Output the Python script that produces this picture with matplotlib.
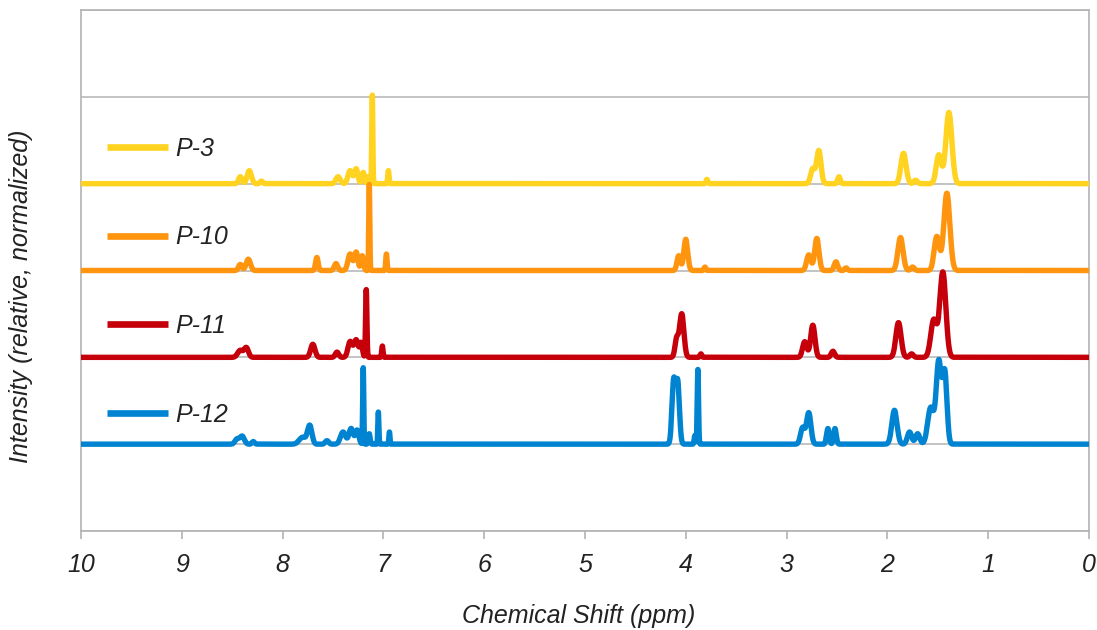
import numpy as np
import matplotlib.pyplot as plt

# peak tables: shift (ppm), height (relative), width (FWHM, ppm)
p3_shift = [8.42, 8.33, 8.21, 7.45, 7.33, 7.27, 7.20, 7.15, 7.11, 6.95, 3.79, 2.74, 2.68, 2.48, 1.84, 1.72, 1.49, 1.39]
p3_height = [0.08, 0.15, 0.03, 0.08, 0.15, 0.17, 0.13, 0.08, 1.02, 0.15, 0.05, 0.17, 0.38, 0.08, 0.35, 0.04, 0.33, 0.82]
p3_width = [0.04, 0.05, 0.03, 0.05, 0.05, 0.04, 0.03, 0.02, 0.012, 0.015, 0.02, 0.05, 0.05, 0.03, 0.06, 0.04, 0.06, 0.07]

p10_shift = [8.42, 8.34, 7.66, 7.47, 7.33, 7.27, 7.21, 7.14, 6.97, 4.07, 4.00, 3.81, 2.78, 2.70, 2.51, 2.41, 1.87, 1.75, 1.51, 1.41]
p10_height = [0.07, 0.13, 0.15, 0.08, 0.19, 0.21, 0.17, 0.99, 0.19, 0.17, 0.36, 0.04, 0.18, 0.37, 0.10, 0.03, 0.38, 0.04, 0.39, 0.89]
p10_width = [0.04, 0.05, 0.03, 0.04, 0.05, 0.04, 0.03, 0.012, 0.015, 0.04, 0.045, 0.02, 0.05, 0.05, 0.04, 0.03, 0.06, 0.04, 0.06, 0.07]

p11_shift = [8.42, 8.36, 7.70, 7.46, 7.33, 7.27, 7.22, 7.17, 7.01, 4.09, 4.04, 3.85, 2.82, 2.74, 2.54, 1.89, 1.76, 1.54, 1.45]
p11_height = [0.08, 0.11, 0.15, 0.06, 0.18, 0.20, 0.16, 0.78, 0.13, 0.21, 0.50, 0.04, 0.18, 0.37, 0.07, 0.40, 0.04, 0.43, 0.98]
p11_width = [0.06, 0.05, 0.05, 0.04, 0.05, 0.05, 0.03, 0.015, 0.015, 0.04, 0.05, 0.02, 0.05, 0.05, 0.04, 0.06, 0.04, 0.07, 0.07]

p12_shift = [8.45, 8.40, 8.29, 7.80, 7.73, 7.56, 7.40, 7.32, 7.26, 7.20, 7.14, 7.05, 6.94, 4.12, 4.08, 3.91, 3.88,
             2.84, 2.78, 2.59, 2.52, 1.93, 1.78, 1.70, 1.57, 1.49, 1.43]
p12_height = [0.06, 0.09, 0.03, 0.08, 0.21, 0.04, 0.14, 0.18, 0.16, 0.88, 0.12, 0.37, 0.14, 0.72, 0.70, 0.10, 0.86,
              0.19, 0.36, 0.18, 0.18, 0.39, 0.14, 0.12, 0.42, 0.95, 0.80]
p12_width = [0.05, 0.05, 0.03, 0.08, 0.05, 0.04, 0.06, 0.05, 0.04, 0.012, 0.02, 0.012, 0.012, 0.04, 0.04, 0.015, 0.015,
             0.05, 0.05, 0.03, 0.03, 0.06, 0.05, 0.05, 0.07, 0.06, 0.05]

labels = ["P-3", "P-10", "P-11", "P-12"]
offsets = [4, 3, 2, 1]
colors = ["#ffd320", "#ff950e", "#c5000b", "#0084d1"]

x_ticks = [10, 9, 8, 7, 6, 5, 4, 3, 2, 1, 0]


def spectrum(ppm, shifts, heights, widths):
    y = np.zeros_like(ppm)
    for s, h, w in zip(shifts, heights, widths):
        sig = w / 2.355
        y += h * np.exp(-0.5 * ((ppm - s) / sig) ** 2)
    return y


plt.rcParams['font.family'] = ['Liberation Sans', 'DejaVu Sans']

fig = plt.figure(figsize=(10.97, 6.30), dpi=100)
ax = fig.add_axes([81 / 1097, 99 / 630, 1008 / 1097, 521 / 630])

ppm = np.linspace(0, 10, 8001)
tables = [(p3_shift, p3_height, p3_width), (p10_shift, p10_height, p10_width),
          (p11_shift, p11_height, p11_width), (p12_shift, p12_height, p12_width)]

for (s, h, w), off, c, lab in zip(tables, offsets, colors, labels):
    ax.plot(ppm, off + spectrum(ppm, s, h, w), color=c, lw=3.9, label=lab,
            solid_joinstyle='round', zorder=3)

ax.set_xlim(10, 0)
ax.set_ylim(0, 6)
ax.set_xticks(x_ticks)
ax.set_xticklabels([str(t) for t in x_ticks], fontsize=18, style='italic', color='#222222')
ax.set_yticks(range(7))
ax.set_yticklabels([])
ax.tick_params(axis='y', length=0)
ax.tick_params(axis='x', length=6, width=1.2, color='#b3b3b3', pad=10)
ax.grid(axis='y', color='#b3b3b3', lw=1.1)
ax.set_axisbelow(True)
for sp in ax.spines.values():
    sp.set_color('#b3b3b3')
    sp.set_linewidth(1.2)

ax.set_xlabel("Chemical Shift (ppm)", fontsize=18, style='italic', color='#222222')
ax.xaxis.set_label_coords(0.494, -0.141)
ax.set_ylabel("Intensity (relative, normalized)", fontsize=18, style='italic', color='#222222')
ax.yaxis.set_label_coords(-0.048, 0.45)

leg = ax.legend(loc='upper left', bbox_to_anchor=(0.026, 0.757), frameon=False,
                prop={'size': 18, 'style': 'italic'}, handlelength=2.44, handletextpad=0.28,
                labelspacing=2.59, borderpad=0, borderaxespad=0)
for line in leg.get_lines():
    line.set_linewidth(4.8)
    line.set_solid_capstyle('butt')
for t in leg.get_texts():
    t.set_color('#222222')

fig.savefig("out.png", dpi=100)
